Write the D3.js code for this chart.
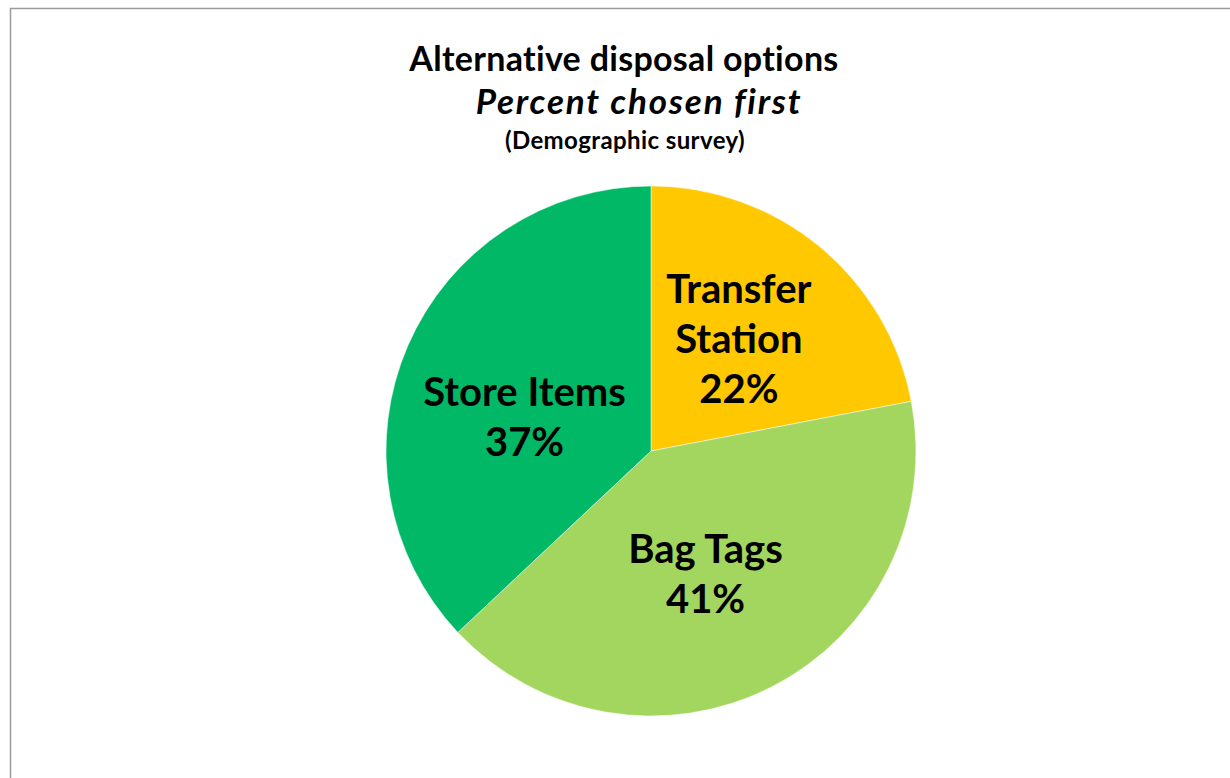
<!DOCTYPE html>
<html>
<head>
<meta charset="utf-8">
<script src="https://cdn.jsdelivr.net/npm/d3@7"></script>
<style>
  body { margin: 0; background: #fff; }
  text { font-family: Lato, "Open Sans", sans-serif; }
</style>
</head>
<body>
<svg id="chart" width="1230" height="778"></svg>
<script>
// data
const categories = ["Transfer Station", "Bag Tags", "Store Items"];
const labelLines = [["Transfer", "Station"], ["Bag Tags"], ["Store Items"]];
const percents = [22, 41, 37];
const colors = ["#FFC800", "#A3D65F", "#00B865"];

const svg = d3.select("#chart");

// outer frame (runs off the right/bottom edge like the screenshot)
svg.append("rect")
  .attr("x", 10.5).attr("y", 8.5)
  .attr("width", 1240).attr("height", 800)
  .attr("fill", "none")
  .attr("stroke", "#9a9a9a")
  .attr("stroke-width", 1.5);

// titles
svg.append("text").attr("x", 624).attr("y", 71)
  .attr("text-anchor", "middle").attr("font-size", 34).attr("font-weight", "bold")
  .attr("letter-spacing", 0.3)
  .text("Alternative disposal options");
svg.append("text").attr("x", 639).attr("y", 114)
  .attr("text-anchor", "middle").attr("font-size", 35).attr("font-weight", "bold")
  .attr("font-style", "italic").attr("letter-spacing", 1.8)
  .text("Percent chosen first");
svg.append("text").attr("x", 625).attr("y", 149)
  .attr("text-anchor", "middle").attr("font-size", 24).attr("font-weight", "bold")
  .attr("letter-spacing", 0.4)
  .text("(Demographic survey)");

// pie
const radius = 265;
const g = svg.append("g").attr("transform", "translate(651,451)");

const pie = d3.pie().sort(null).value(d => d);
const arcs = pie(percents);
const arc = d3.arc().innerRadius(0).outerRadius(radius);
const labelArc = d3.arc().innerRadius(radius * 0.52).outerRadius(radius * 0.52);
// small nudges to mimic where the spreadsheet put its label boxes
const nudge = [[0, -6], [-8, 0], [0, 20]];

g.selectAll("path.slice")
  .data(arcs)
  .join("path")
  .attr("class", "slice")
  .attr("d", arc)
  .attr("fill", (d, i) => colors[i])
  .attr("stroke", "#fff")
  .attr("stroke-width", 0.5);

const fs = 40, lineH = 50;
const labels = g.selectAll("text.lbl")
  .data(arcs)
  .join("text")
  .attr("class", "lbl")
  .attr("text-anchor", "middle")
  .attr("font-size", fs)
  .attr("font-weight", "bold")
  .attr("fill", "#000")
  .attr("transform", (d, i) => {
    const c = labelArc.centroid(d);
    return "translate(" + (c[0] + nudge[i][0]) + "," + (c[1] + nudge[i][1]) + ")";
  });

labels.each(function(d, i) {
  const lines = labelLines[i].concat([percents[i] + "%"]);
  const t = d3.select(this);
  const y0 = -(lines.length - 1) * lineH / 2 + fs * 0.36;
  lines.forEach((s, k) => {
    t.append("tspan").attr("x", 0).attr("y", y0 + k * lineH).text(s);
  });
});
</script>
</body>
</html>
